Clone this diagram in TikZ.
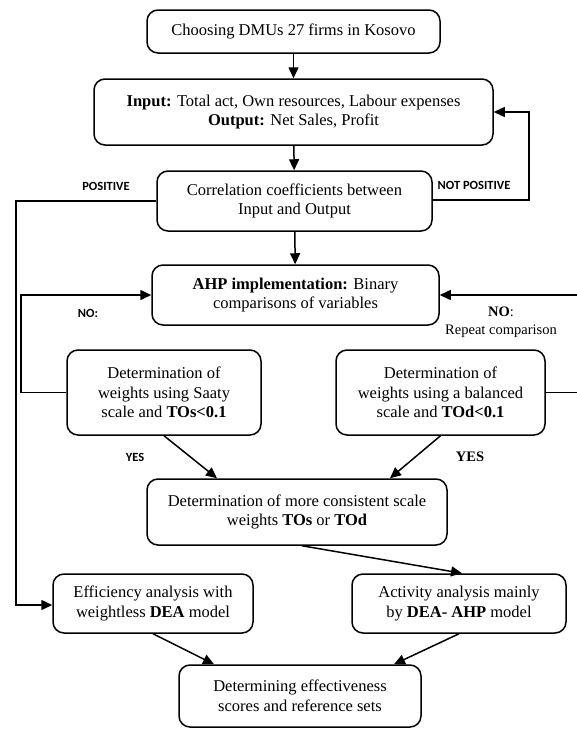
\documentclass[tikz,border=0pt]{standalone}
\usepackage{fontspec}
\setmainfont{Liberation Serif}
\newfontfamily\labfont{Carlito}
\usetikzlibrary{arrows.meta,calc}
\begin{document}
\begin{tikzpicture}[x=1pt,y=-1pt,
  box/.style={draw, rounded corners=11pt, line width=1.5pt, align=center,
    inner sep=0pt, font=\fontsize{16.5}{19.5}\selectfont},
  conn/.style={line width=1.5pt, -{Triangle[length=11pt,width=10pt]}},
  lab/.style={font=\labfont\bfseries\fontsize{12.5}{14}\selectfont, inner sep=0pt},
  slab/.style={font=\fontsize{14.5}{18}\selectfont, inner sep=0pt, align=center}]
\useasboundingbox (0,0) rectangle (577,729);

\node[box, minimum width=293pt, minimum height=43pt] (b1) at (293.5,31.5) {Choosing DMUs 27 firms in Kosovo};
\node[box, minimum width=399pt, minimum height=66pt] (b2) at (293.5,112) {\textbf{Input:} Total act, Own resources, Labour expenses\\\textbf{Output:} Net Sales, Profit};
\node[box, minimum width=275pt, minimum height=60pt] (b3) at (294.5,201) {Correlation coefficients between\\Input and Output};
\node[box, minimum width=287pt, minimum height=60pt] (b4) at (295.5,295) {\textbf{AHP implementation:} Binary\\comparisons of variables};
\node[box, minimum width=194pt, minimum height=85pt] (saaty) at (164,392.5) {Determination of\\weights using Saaty\\scale and \textbf{TOs<0.1}};
\node[box, minimum width=209pt, minimum height=85pt] (bal) at (440.5,392.5) {Determination of\\weights using a balanced\\scale and \textbf{TOd<0.1}};
\node[box, minimum width=300pt, minimum height=66pt] (b5) at (297,512) {Determination of more consistent scale\\weights \textbf{TOs} or \textbf{TOd}};
\node[box, minimum width=200pt, minimum height=59pt] (eff) at (153,603.5) {Efficiency analysis with\\weightless \textbf{DEA} model};
\node[box, minimum width=214pt, minimum height=59pt] (act) at (459,603.5) {Activity analysis mainly\\by \textbf{DEA- AHP} model};
\node[box, minimum width=242pt, minimum height=62pt] (fin) at (300,696) {Determining effectiveness\\scores and reference sets};

% bend points
\coordinate (np1) at (529,200);
\coordinate (np2) at (529,112);
\coordinate (p1) at (16,201);
\coordinate (p2) at (16,605);
\coordinate (nl1) at (21,392.5);
\coordinate (nl2) at (21,295);
\coordinate (nr1) at (600,392.5);
\coordinate (nr2) at (600,295);

\draw[conn] (b1) -- (b2);
\draw[conn] (b2) -- (b3);
\draw[conn] (b3) -- (b4);
\draw[conn] (b3.east |- np1) -- (np1) -- (np2) -- (b2.east);
\draw[conn] (b3.west |- p1) -- (p1) -- (p2) -- (eff.west |- p2);
\draw[conn] (saaty.west) -- (nl1) -- (nl2) -- (b4.west);
\draw[conn] (bal.east) -- (nr1) -- (nr2) -- (b4.east);
\draw[conn] (saaty.south) -- ([xshift=-80pt]b5.north);
\draw[conn] (bal.south) -- ([xshift=93pt]b5.north);
\draw[conn] ([xshift=5pt]b5.south) -- ([xshift=3pt]act.north);
\draw[conn] (eff.south) -- ([xshift=-86pt]fin.north);
\draw[conn] (act.south) -- ([xshift=94pt]fin.north);

\node[lab] (lpos) at (106,186) {POSITIVE};
\node[lab] (lnpos) at (474,185) {NOT POSITIVE};
\node[lab] (lno) at (88,313) {NO:};
\node[slab] (lnor) at (501,322) {\textbf{NO}:\\Repeat comparison};
\node[lab] (lyes) at (135,457) {YES};
\node[slab] (lyesr) at (470,457) {\textbf{YES}};
\end{tikzpicture}
\end{document}
